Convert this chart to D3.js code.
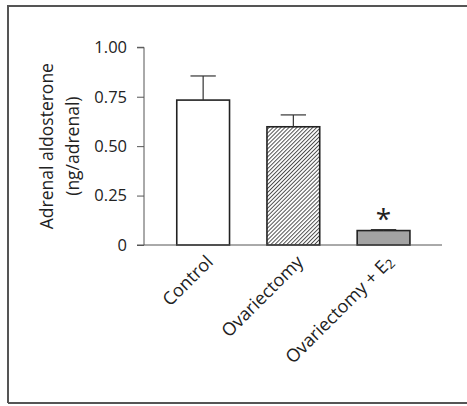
<!DOCTYPE html>
<html>
<head>
<meta charset="utf-8">
<script src="https://cdn.jsdelivr.net/npm/d3@7"></script>
<style>
  body { margin: 0; background: #fff; }
  svg { display: block; font-family: "Open Sans", sans-serif; }
</style>
</head>
<body>
<div id="chart"></div>
<script>
// data
const groups = ["Control", "Ovariectomy", "Ovariectomy + E2"];
const means = [0.733, 0.598, 0.073];
const errors = [0.122, 0.06, 0.005];
const yTicks = [0, 0.25, 0.5, 0.75, 1.0];
const fills = ["white", "url(#hatch)", "#a3a3a3"];
const significant = [false, false, true];

const W = 467, H = 406;
const svg = d3.select("#chart").append("svg")
    .attr("width", W)
    .attr("height", H);

// hatch pattern for ovariectomy bar
const hs = 2.8;
const pat = svg.append("defs").append("pattern")
    .attr("id", "hatch")
    .attr("patternUnits", "userSpaceOnUse")
    .attr("width", hs)
    .attr("height", hs)
    .attr("patternTransform", "rotate(45)");
pat.append("rect").attr("width", hs).attr("height", hs).attr("fill", "white");
pat.append("line")
    .attr("x1", 0.5).attr("y1", 0).attr("x2", 0.5).attr("y2", hs)
    .attr("stroke", "#333").attr("stroke-width", 0.85);

// outer frame
svg.append("path")
    .attr("d", `M8,${H - 3} L8,6 L${W + 5},6 M8,${H - 3} L${W + 5},${H - 3}`)
    .attr("fill", "none")
    .attr("stroke", "#555")
    .attr("stroke-width", 2);

const x0 = 144, x1 = 442, yTop = 47.3, yBot = 245;

const x = d3.scaleBand()
    .domain(groups)
    .range([158, 428.7])
    .paddingInner(0.415)
    .paddingOuter(0.208);

const y = d3.scaleLinear()
    .domain([0, 1])
    .range([yBot, yTop]);

const g = svg.append("g");

// bars
g.selectAll(".bar")
    .data(groups)
    .enter()
    .append("rect")
    .attr("class", "bar")
    .attr("x", d => x(d))
    .attr("y", (d, i) => y(means[i]))
    .attr("width", x.bandwidth())
    .attr("height", (d, i) => y(0) - y(means[i]))
    .attr("fill", (d, i) => fills[i])
    .attr("stroke", "#222")
    .attr("stroke-width", 1.6);

// error bars (upper only)
const cap = x.bandwidth() * 0.48;
groups.forEach((d, i) => {
    const cx = x(d) + x.bandwidth() / 2;
    const top = y(means[i] + errors[i]);
    g.append("line")
        .attr("x1", cx).attr("x2", cx)
        .attr("y1", y(means[i])).attr("y2", top)
        .attr("stroke", "#333").attr("stroke-width", 1.2);
    g.append("line")
        .attr("x1", cx - cap / 2).attr("x2", cx + cap / 2)
        .attr("y1", top).attr("y2", top)
        .attr("stroke", "#333").attr("stroke-width", 1.2);
    if (significant[i]) {
        g.append("text")
            .attr("x", cx)
            .attr("y", top - 1)
            .attr("text-anchor", "middle")
            .attr("font-size", 28)
            .attr("fill", "#222")
            .text("*");
    }
});

// y axis
const yAxis = d3.axisLeft(y)
    .tickValues(yTicks)
    .tickSize(7)
    .tickPadding(10)
    .tickFormat(d => d === 0 ? "0" : d3.format(".2f")(d));
const ya = svg.append("g")
    .attr("transform", `translate(${x0},0)`)
    .call(yAxis);
ya.select(".domain").attr("stroke", "#555").attr("d", `M-7,${yTop}H0V${yBot}H-7`);
ya.selectAll(".tick line").attr("stroke", "#555");
ya.selectAll(".tick text").attr("font-size", 16.5).attr("fill", "#222")
    .attr("font-family", "Open Sans");

// x axis baseline
svg.append("line")
    .attr("x1", x0).attr("x2", x1)
    .attr("y1", yBot).attr("y2", yBot)
    .attr("stroke", "#555").attr("stroke-width", 1);

// x labels (rotated)
const xl = svg.selectAll(".xlabel")
    .data(groups)
    .enter()
    .append("text")
    .attr("class", "xlabel")
    .attr("text-anchor", "end")
    .attr("font-size", 18)
    .attr("fill", "#222")
    .attr("transform", d => `translate(${x(d) + x.bandwidth() / 2 + 11},${yBot + 18}) rotate(-45)`);
xl.each(function(d) {
    const t = d3.select(this);
    if (d.endsWith("E2")) {
        t.append("tspan").text("Ovariectomy + E");
        t.append("tspan").attr("font-size", 13).attr("dy", 2).text("2");
    } else {
        t.text(d);
    }
});

// y axis title
const yt = svg.append("text")
    .attr("transform", `translate(53,${(yTop + yBot) / 2}) rotate(-90)`)
    .attr("text-anchor", "middle")
    .attr("font-size", 17.5)
    .attr("fill", "#222");
yt.append("tspan").attr("x", 0).attr("dy", 0).text("Adrenal aldosterone");
yt.append("tspan").attr("x", 0).attr("dy", 26).text("(ng/adrenal)");
</script>
</body>
</html>
